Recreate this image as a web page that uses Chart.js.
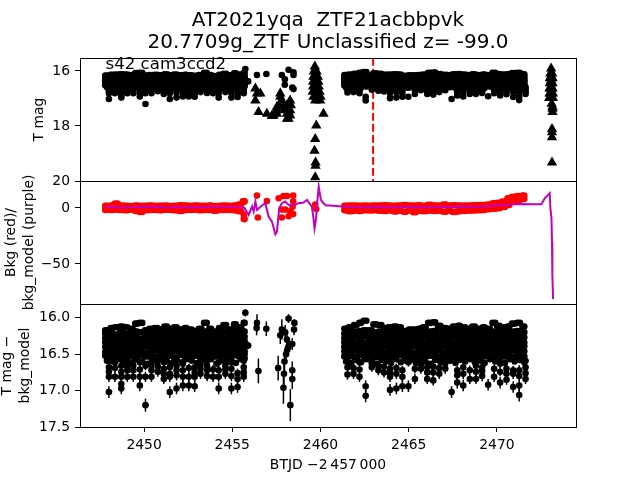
<!DOCTYPE html>
<html>
<head>
<meta charset="utf-8">
<script src="https://cdn.jsdelivr.net/npm/chart.js@4"></script>
<style>
  html, body { margin: 0; padding: 0; background: #fff; }
  canvas { position: absolute; left: 0; top: 0; }
</style>
</head>
<body>
<canvas id="magChart" width="640" height="480"></canvas>
<canvas id="bkgChart" width="640" height="480"></canvas>
<canvas id="diffChart" width="640" height="480"></canvas>
<script>
// Tick labels
const xTicks = [2450, 2455, 2460, 2465, 2470];
const magTicks = [16, 18, 20];
const bkgTicks = [-50, 0];
const diffTicks = [16, 16.5, 17, 17.5];

const flareTime = [2462.98, 2462.98];
const flareMag = [15.53, 20];

// Dense cloud, read column by column (two time grids, half a step apart)
const blobTimes = [2447.8,2448.1,2448.35,2448.65,2448.9,2449.2,2449.5,2449.75,2450.05,2450.3,2450.6,2450.9,2451.15,2451.45,2451.7,2452.0,2452.3,2452.55,2452.85,2453.1,2453.4,2453.7,2453.95,2454.25,2454.5,2454.8,2455.1,2455.35,2455.65,
  2461.35,2461.6,2461.9,2462.2,2462.45,2462.75,2463.0,2463.3,2463.6,2463.85,2464.15,2464.4,2464.7,2465.0,2465.25,2465.55,2465.8,2466.1,2466.4,2466.65,2466.95,2467.2,2467.5,2467.8,2468.05,2468.35,2468.6,2468.9,2469.2,2469.45,2469.75,2470.0,2470.3,2470.6,2470.85,2471.15,2471.45];
const blobTimesMid = [2447.9,2448.2,2448.5,2448.8,2449.05,2449.35,2449.6,2449.9,2450.2,2450.45,2450.75,2451.0,2451.3,2451.6,2451.85,2452.15,2452.4,2452.7,2453.0,2453.25,2453.55,2453.8,2454.1,2454.4,2454.65,2454.95,2455.2,2455.5,2455.7,
  2461.45,2461.75,2462.05,2462.3,2462.6,2462.9,2463.15,2463.45,2463.7,2464.0,2464.3,2464.55,2464.85,2465.1,2465.4,2465.65,2465.95,2466.25,2466.5,2466.8,2467.1,2467.35,2467.65,2467.9,2468.2,2468.5,2468.75,2469.05,2469.3,2469.6,2469.9,2470.15,2470.45,2470.7,2471.0,2471.3,2471.55];

const magRow1 = [16.17,16.14,16.13,16.12,16.13,16.15,16.08,16.07,16.17,16.15,16.14,16.16,16.12,16.15,16.13,16.16,16.14,16.16,16.18,16.15,16.07,16.15,16.19,16.14,16.10,16.16,16.09,16.13,16.07,
  16.15,16.13,16.10,16.07,16.04,16.17,16.09,16.10,16.14,16.13,16.12,16.13,16.18,16.16,16.16,16.15,16.13,16.07,16.06,16.11,16.14,16.15,16.12,16.11,16.13,16.15,16.12,16.15,16.13,16.15,16.07,16.11,16.13,16.12,16.08,16.07,16.12];
const magRow2 = [16.22,16.21,16.23,16.20,16.22,16.21,16.19,16.20,16.23,16.22,16.21,16.23,16.20,16.22,16.21,16.23,16.21,16.22,16.24,16.21,16.19,16.22,16.24,16.21,16.19,16.23,16.18,16.20,16.19,
  16.22,16.20,16.19,16.18,16.17,16.23,16.20,16.19,16.22,16.21,16.20,16.21,16.23,16.22,16.23,16.21,16.20,16.19,16.18,16.20,16.22,16.22,16.20,16.20,16.21,16.22,16.20,16.22,16.21,16.22,16.19,16.20,16.21,16.20,16.19,16.18,16.20];
const magRow3 = [16.28,16.27,16.29,16.28,16.26,16.28,16.27,16.29,16.28,16.27,16.28,16.29,16.27,16.28,16.26,16.28,16.29,16.27,16.29,16.28,16.26,16.28,16.29,16.27,16.28,16.26,16.27,16.28,16.26,
  16.28,16.27,16.26,16.27,16.25,16.28,16.27,16.26,16.28,16.29,16.27,16.28,16.29,16.27,16.28,16.27,16.26,16.27,16.25,16.28,16.27,16.29,16.26,16.27,16.28,16.27,16.28,16.29,16.27,16.28,16.26,16.27,16.28,16.26,16.27,16.26,16.27];
const magRow4 = [16.34,16.33,16.35,16.34,16.33,16.35,16.34,16.33,16.35,16.34,16.33,16.35,16.34,16.33,16.35,16.34,16.36,16.33,16.35,16.34,16.33,16.35,16.34,16.33,16.35,16.34,16.33,16.34,16.32,
  16.34,16.33,16.35,16.33,16.34,16.35,16.33,16.34,16.35,16.33,16.34,16.36,16.33,16.35,16.34,16.33,16.35,16.34,16.33,16.35,16.34,16.33,16.35,16.34,16.33,16.35,16.34,16.33,16.35,16.34,16.33,16.35,16.34,16.33,16.35,16.33,16.34];
const magRow5 = [16.40,16.39,16.41,16.40,16.41,16.39,16.40,16.41,16.39,16.41,16.40,16.39,16.41,16.40,16.39,16.41,16.40,16.42,16.39,16.40,16.41,16.39,16.41,16.40,16.39,16.41,16.40,16.39,16.40,
  16.40,16.41,16.39,16.40,16.41,16.39,16.40,16.41,16.39,16.40,16.41,16.39,16.42,16.40,16.39,16.41,16.40,16.39,16.41,16.40,16.39,16.41,16.40,16.42,16.39,16.41,16.40,16.39,16.41,16.40,16.39,16.41,16.40,16.39,16.41,16.40,16.39];
const magRow6 = [16.47,16.45,16.47,16.46,16.48,16.45,16.47,16.46,16.48,16.46,16.45,16.47,16.46,16.48,16.45,16.47,16.46,16.47,16.45,16.48,16.46,16.47,16.45,16.47,16.46,16.48,16.45,16.47,16.46,
  16.46,16.47,16.45,16.48,16.46,16.47,16.45,16.46,16.48,16.46,16.47,16.45,16.47,16.46,16.48,16.45,16.47,16.46,16.47,16.45,16.48,16.46,16.47,16.45,16.46,16.48,16.45,16.47,16.46,16.48,16.45,16.47,16.46,16.47,16.45,16.48,16.46];
const magRow7 = [16.52,16.53,16.51,16.54,16.52,16.53,16.55,16.51,16.53,16.52,16.54,16.51,16.53,16.52,16.55,16.51,16.53,16.54,16.52,16.51,16.54,16.52,16.53,16.51,16.54,16.52,16.51,16.53,16.50,
  16.53,16.52,16.54,16.51,16.53,16.52,16.54,16.51,16.52,16.54,16.53,16.51,16.53,16.52,16.54,16.51,16.53,16.52,16.51,16.54,16.53,16.52,16.54,16.51,16.53,16.52,16.54,16.51,16.53,16.52,16.54,16.51,16.53,16.52,16.54,16.51,16.53];
const magRow8 = [16.59,16.60,16.57,16.61,16.58,16.62,16.57,16.60,16.63,16.58,16.61,16.57,16.60,16.62,16.58,16.61,16.57,16.59,16.62,16.58,16.60,16.57,16.63,16.59,16.61,16.58,16.62,16.57,16.56,
  16.60,16.62,16.58,16.61,16.57,16.60,16.63,16.58,16.60,16.62,16.57,16.61,16.59,16.58,16.62,16.57,16.60,16.63,16.58,16.61,16.57,16.59,16.62,16.58,16.60,16.57,16.61,16.59,16.62,16.57,16.60,16.58,16.62,16.57,16.60,16.58,16.61];

// Lower fringe of the cloud, with error bars
const fringeTimes = [2448.01,2448.01,2448.01,2448.01,2448.35,2448.35,2448.71,2448.71,2448.71,2449.05,2449.05,2449.05,2449.39,2449.39,2449.76,2449.76,2449.76,2450.08,2450.08,2450.42,2450.42,2450.78,2451.12,2451.12,2451.12,2451.46,2451.46,2451.46,2451.84,2451.84,2451.84,2452.2,2452.2,2452.2,2452.54,2452.54,2452.87,2452.87,2452.87,2453.2,2453.2,2453.2,2453.57,2453.57,2453.91,2454.23,2454.23,2454.23,2454.61,2454.61,2454.95,2454.95,2454.95,2455.3,2455.3,2455.65,2455.65,2455.65,2455.74,2455.9,
  2461.53,2461.53,2461.87,2462.21,2462.21,2462.56,2462.56,2462.91,2463.28,2463.6,2463.94,2463.94,2463.94,2464.3,2464.3,2464.64,2464.64,2464.98,2464.98,2465.35,2465.69,2466.05,2466.05,2466.39,2466.39,2466.73,2467.07,2467.43,2467.75,2467.75,2468.09,2468.09,2468.46,2468.81,2468.81,2469.16,2469.16,2469.5,2469.84,2470.18,2470.18,2470.54,2470.54,2470.92,2470.92,2471.26,2471.26,2471.26,2471.62,2471.62,2471.62,
  2448.01,2448.35,2448.71,2448.71,2449.05,2449.39,2449.76,2450.08,2450.42,2450.78,2451.12,2451.46,2451.84,2452.2,2452.54,2452.87,2453.2,2453.57,2453.91,2454.23,2454.61,2454.95,2455.3,2455.65,
  2461.53,2461.87,2462.21,2462.91,2463.28,2463.6,2463.94,2464.3,2464.64,2465.35,2465.69,2466.05,2466.39,2466.73,2467.07,2467.75,2468.09,2468.46,2468.81,2469.16,2469.84,2470.18,2470.54,2470.92,2471.26,2471.62];
const fringeMags = [17.02,16.81,16.68,16.57,16.81,16.61,16.81,16.91,16.97,16.81,16.72,16.61,16.72,16.81,16.81,16.93,16.61,17.20,16.81,16.72,16.81,16.74,16.70,16.84,16.61,16.81,16.77,17.02,16.97,16.79,16.66,16.93,16.81,16.63,16.93,16.81,16.94,16.81,16.68,16.70,16.77,16.57,16.72,16.80,16.81,16.97,16.81,16.61,16.77,16.66,16.97,16.80,16.61,16.95,16.84,16.81,16.68,16.59,15.93,16.38,
  16.78,16.59,16.77,16.81,16.61,16.94,17.07,16.63,16.72,16.75,16.99,16.81,16.70,16.97,16.77,16.94,16.81,16.94,16.61,16.84,16.70,16.84,16.75,16.86,16.75,16.77,16.70,17.02,16.89,16.79,16.93,16.77,16.84,16.84,16.66,16.80,16.68,16.92,16.81,16.89,16.63,16.85,16.70,16.95,16.77,17.06,16.93,16.72,16.84,16.68,16.59,
  16.74,16.69,16.66,16.74,16.67,16.66,16.71,16.66,16.66,16.67,16.77,16.68,16.72,16.72,16.69,16.75,16.64,16.66,16.71,16.72,16.71,16.70,16.76,16.75,
  16.68,16.69,16.71,16.68,16.66,16.67,16.76,16.69,16.72,16.70,16.64,16.68,16.67,16.69,16.63,16.72,16.68,16.72,16.74,16.73,16.70,16.74,16.77,16.72,16.80,16.76];
const fringeErrs = [.08,.07,.07,.06,.07,.06,.07,.08,.08,.07,.07,.06,.07,.07,.07,.08,.06,.09,.07,.07,.07,.07,.07,.07,.06,.07,.07,.08,.08,.07,.06,.08,.07,.06,.08,.07,.08,.07,.06,.07,.07,.06,.07,.07,.07,.08,.07,.06,.07,.06,.08,.07,.06,.08,.07,.07,.06,.06,.05,.05,
  .07,.06,.07,.07,.06,.08,.09,.06,.07,.07,.08,.07,.07,.08,.07,.08,.07,.08,.06,.07,.07,.07,.07,.07,.07,.07,.07,.08,.08,.07,.08,.07,.07,.07,.06,.07,.07,.08,.07,.08,.06,.07,.07,.08,.07,.09,.08,.07,.07,.06,.06,
  .06,.06,.06,.06,.06,.06,.06,.06,.06,.06,.06,.06,.06,.06,.06,.06,.06,.06,.06,.06,.06,.06,.06,.06,
  .06,.06,.06,.06,.06,.06,.06,.06,.06,.06,.06,.06,.06,.06,.06,.06,.06,.06,.06,.06,.06,.06,.06,.06,.06,.06];

// Sparse stretch before the gap, diff panel
const gapTimes = [2456.4,2456.38,2456.48,2456.93,2457.6,2457.81,2457.72,2457.9,2457.93,2457.96,2458.0,2458.19,2458.12,2458.1,2458.17,2458.05,2458.29,2458.4,2458.4,2458.4,2458.5,2458.52];
const gapMags = [16.07,16.14,16.73,16.15,16.69,16.16,16.24,16.96,16.77,16.60,16.20,16.01,16.44,16.30,16.40,16.50,17.20,16.84,16.72,16.36,16.16,16.07];
const gapErrs = [.12,.1,.17,.1,.17,.14,.12,.22,.2,.15,.1,.06,.1,.08,.08,.1,.22,.14,.12,.08,.08,.05];

// Same stretch in the magnitude panel: dots on top, triangles below
const topGapTimes = [2456.4,2456.93,2457.81,2458.19,2458.47,2458.47,2457.98,2457.98,2458.4,2458.47];
const topGapMags = [16.15,16.11,16.15,15.96,16.05,16.15,16.5,16.3,16.6,16.66];

const triangleTimes = [2456.31,2456.4,2456.31,2456.59,2456.49,2456.96,2457.25,2457.53,2457.72,2457.72,2458.19,2458.28,2458.28,2457.91,2457.53,2458.1,
  2457.34,2457.53,2457.63,2457.81,2457.72,2457.94,2458.1,2458.19,2458.32,2458.28,2458.1,2457.25,
  2459.68,2459.62,2459.78,2459.6,2459.7,2459.85,2459.58,2459.7,2459.88,2459.58,2459.72,2459.9,2459.56,2459.72,2459.95,2459.6,2459.79,2460.0,2459.7,2459.98,
  2459.72,2459.75,2459.75,2459.75,2459.75,
  2460.17,2459.76,2459.7,2459.66,2459.72,2459.72,2459.7,
  2473.07,2473.03,2473.13,2473.0,2473.09,2473.15,2473.0,2473.09,2473.15,2472.98,2473.09,2473.15,2472.98,2473.09,2473.17,2472.96,2473.07,2473.17,
  2473.07,2473.07,2473.07,2473.07,2473.07,
  2473.1,2473.15,2473.15,2473.15,2473.12,2473.12,2473.12,2473.12];
const triangleMags = [17.07,16.82,16.64,16.82,17.49,17.56,17.64,17.56,17.25,16.94,17.74,17.43,17.07,17.31,17.31,17.56,
  17.62,17.43,17.25,17.07,16.82,17.43,17.25,17.49,17.25,17.62,17.74,17.64,
  15.84,16.02,16.02,16.21,16.21,16.21,16.39,16.39,16.39,16.57,16.57,16.57,16.76,16.76,16.76,16.94,16.94,16.94,17.07,17.07,
  16.12,16.30,16.48,16.66,16.85,
  17.56,17.98,18.47,18.90,19.33,19.45,19.86,
  15.91,16.09,16.09,16.27,16.27,16.27,16.45,16.45,16.45,16.64,16.64,16.64,16.82,16.82,16.82,16.98,16.98,16.98,
  16.18,16.36,16.55,16.73,16.90,
  17.19,17.37,17.30,17.49,18.11,18.23,18.41,19.33];

// Background (red), upper and lower edge of the band
const bkgHigh = [1.8,2.0,3.8,2.0,1.8,1.6,2.0,1.8,1.9,2.2,1.8,1.9,2.0,1.7,1.9,2.4,2.1,1.8,2.0,1.9,1.8,2.0,1.7,1.8,2.0,1.8,2.2,3.0,5.8,
  1.8,2.0,2.2,1.9,2.2,1.8,2.0,2.1,2.4,2.2,1.9,2.0,2.6,2.2,2.0,2.3,1.8,2.8,2.0,2.2,3.0,2.1,2.4,2.0,2.1,2.2,2.3,2.5,2.6,3.0,4.0,4.6,5.6,8.6,10.0,10.6,11.0,11.3];
const bkgLow = [-1.8,-1.9,-1.6,-1.8,-2.0,-1.7,-2.8,-3.6,-2.0,-1.8,-1.9,-2.0,-1.7,-1.8,-2.0,-2.8,-1.9,-1.8,-1.7,-2.0,-1.9,-1.8,-2.6,-1.9,-1.8,-1.9,-2.0,-3.0,-10.0,
  -2.0,-3.0,-2.4,-2.8,-2.0,-2.2,-2.0,-2.6,-2.8,-2.2,-3.2,-2.6,-3.4,-2.0,-3.8,-2.6,-3.0,-2.4,-2.8,-2.6,-3.4,-2.8,-3.6,-3.0,-2.8,-2.4,-2.2,-2.0,-1.8,-1.2,-0.8,-0.2,0.8,2.6,5.4,7.0,8.0,8.0];
const bkgGapTimes = [2455.65,2455.6,2456.4,2456.45,2456.96,2457.63,2457.81,2457.9,2458.1,2458.45,2458.45,2458.42,2458.45,2458.19,2458.0,2458.28,2457.81,2459.7,2459.76];
const bkgGapVals = [-6,6,11,-8.6,6.2,8.6,-8.6,10.6,10.6,11,6,1,-5.5,-7.5,-1.5,-3,-1.5,3,-1];

// Background model (purple)
const modelTimes = [2447.8,2448.3,2448.8,2449.3,2449.8,2450.3,2450.8,2451.3,2451.8,2452.3,2452.8,2453.3,2453.8,2454.3,2454.8,2455.3,2455.7,2455.93,2456.12,2456.21,2456.31,2456.4,2456.68,2456.87,2457.06,2457.25,2457.44,2457.53,2457.66,2457.81,2458.0,2458.19,2458.47,2458.75,2459.04,2459.23,2459.51,2459.6,2459.66,2459.75,2459.82,2459.9,2460.02,2460.17,2460.32,2460.55,
  2461.21,2462.0,2463.0,2464.0,2465.0,2466.0,2467.0,2468.0,2469.0,2470.16,2471.3,2472.05,2472.52,2472.71,2472.9,2472.99,2473.03,2473.09,2473.12,2473.14,2473.18];
const modelVals = [0.8,0.5,0.3,0.6,1.0,0.9,1.1,0.4,0.9,0.3,0.8,0.6,1.0,1.0,1.0,0.7,0.0,-6.3,1.2,-3.3,5.7,-1.8,2.1,4.2,-7.7,-12.2,-23.5,-21.1,-0.3,4.2,5.7,2.7,2.1,4.2,4.8,7.2,1.2,-9.2,-18.1,-9.2,5.7,19,7.2,4.2,2.1,2.1,
  1.2,0.6,0.8,0.5,0.9,0.6,0.8,1.2,1.0,2.5,3.4,3.3,3.3,8.6,11.6,13.1,-0.3,-9.2,-30,-60,-81.2];

// The solid part of the cloud sits on both time grids, the last row on one only
const solidRows = [magRow1, magRow2, magRow3, magRow4, magRow5, magRow6, magRow7];

Chart.defaults.font.family = "'DejaVu Sans', sans-serif";
Chart.defaults.color = '#000';

function pairs(xs, ys) {
  return xs.map((x, i) => ({ x: x, y: ys[i] }));
}

function blobPoints() {
  let points = [];
  solidRows.forEach(row => {
    points = points.concat(pairs(blobTimes, row), pairs(blobTimesMid, row));
  });
  return points.concat(pairs(blobTimesMid, magRow8), pairs(fringeTimes, fringeMags));
}

function bkgPoints() {
  return pairs(blobTimes, bkgHigh).concat(
    pairs(blobTimesMid, bkgHigh),
    pairs(blobTimes, bkgLow),
    pairs(blobTimesMid, bkgLow),
    pairs(bkgGapTimes, bkgGapVals)
  );
}

function dots(data, color) {
  return { data: data, backgroundColor: color, pointRadius: 3.3, pointBorderWidth: 0, pointHoverRadius: 3.3 };
}

// Frame round the axes
const framePlugin = {
  id: 'frame',
  afterDraw(chart) {
    const { ctx, chartArea: a } = chart;
    ctx.save();
    ctx.strokeStyle = '#000';
    ctx.lineWidth = 1;
    ctx.strokeRect(a.left + 0.5, a.top + 0.5, a.right - a.left, a.bottom - a.top);
    ctx.restore();
  }
};

// Error bars, through the chart's own scales
const errorBarPlugin = {
  id: 'errorBars',
  beforeDatasetsDraw(chart) {
    const { ctx, scales } = chart;
    const draw = (ts, ms, es) => {
      ts.forEach((t, i) => {
        const x = scales.x.getPixelForValue(t);
        ctx.beginPath();
        ctx.moveTo(x, scales.y.getPixelForValue(ms[i] - es[i]));
        ctx.lineTo(x, scales.y.getPixelForValue(ms[i] + es[i]));
        ctx.stroke();
      });
    };
    ctx.save();
    ctx.strokeStyle = '#000';
    ctx.lineWidth = 1.5;
    draw(fringeTimes, fringeMags, fringeErrs);
    draw(gapTimes, gapMags, gapErrs);
    ctx.restore();
  }
};

// Sector label inside the top panel
const sectorLabelPlugin = {
  id: 'sectorLabel',
  afterDatasetsDraw(chart) {
    const { ctx, scales } = chart;
    ctx.save();
    ctx.font = "16.6px 'DejaVu Sans', sans-serif";
    ctx.fillStyle = '#000';
    ctx.textBaseline = 'alphabetic';
    ctx.fillText('s42 cam3ccd2', scales.x.getPixelForValue(2447.82), scales.y.getPixelForValue(15.93));
    ctx.restore();
  }
};

function baseOptions(cfg) {
  return {
    responsive: false,
    animation: false,
    events: [],
    layout: { padding: cfg.padding },
    plugins: { legend: { display: false }, tooltip: { enabled: false }, title: cfg.title || { display: false } },
    scales: {
      x: {
        type: 'linear',
        min: 2446.37,
        max: 2474.48,
        afterBuildTicks: (s) => { s.ticks = xTicks.map(v => ({ value: v })); },
        afterFit: (s) => { s.height = cfg.xHeight; },
        grid: { display: cfg.showX, drawOnChartArea: false, tickLength: 5, tickColor: '#000' },
        border: { display: false },
        ticks: { display: cfg.showX, font: { size: 13.9 }, padding: 5, maxRotation: 0, callback: v => String(v) },
        title: cfg.xTitle || { display: false }
      },
      y: {
        type: 'linear',
        reverse: cfg.reverse,
        min: cfg.yMin,
        max: cfg.yMax,
        afterBuildTicks: (s) => { s.ticks = cfg.yTicks.map(v => ({ value: v })); },
        afterFit: (s) => { s.width = 80; },
        grid: { drawOnChartArea: false, tickLength: 5, tickColor: '#000' },
        border: { display: false },
        ticks: { font: { size: 13.9 }, padding: 5, callback: cfg.yFormat },
        title: cfg.yTitle
      }
    }
  };
}

function axisTitle(text, top) {
  return { display: true, text: text, font: { size: 13.9, lineHeight: 1.3 }, padding: { top: top, bottom: 0 } };
}

// Top panel
new Chart(document.getElementById('magChart'), {
  type: 'scatter',
  data: {
    datasets: [
      dots(blobPoints().concat(pairs(topGapTimes, topGapMags)), '#000'),
      { data: pairs(triangleTimes, triangleMags), backgroundColor: '#000', pointStyle: 'triangle', pointRadius: 6, pointBorderWidth: 0, pointHoverRadius: 6 },
      { data: pairs(flareTime, flareMag), showLine: true, borderColor: '#ff0000', borderWidth: 2, borderDash: [7.7, 3.3], pointRadius: 0, order: 5 }
    ]
  },
  options: baseOptions({
    padding: { left: 0, right: 64, top: 0, bottom: 299 },
    xHeight: 0,
    showX: false,
    reverse: true,
    yMin: 15.53,
    yMax: 20,
    yTicks: magTicks,
    yFormat: v => String(v),
    yTitle: axisTitle('T mag', 30),
    title: {
      display: true,
      text: ['AT2021yqa  ZTF21acbbpvk', '20.7709g_ZTF Unclassified z= -99.0'],
      fullSize: false,
      font: { size: 20, weight: 'normal', lineHeight: 1.1 },
      color: '#000',
      padding: { top: 10, bottom: 4 }
    }
  }),
  plugins: [framePlugin, sectorLabelPlugin]
});

// Middle panel
new Chart(document.getElementById('bkgChart'), {
  type: 'scatter',
  data: {
    datasets: [
      { data: pairs(modelTimes, modelVals), showLine: true, borderColor: '#bf00bf', borderWidth: 2, pointRadius: 0, order: 1 },
      Object.assign(dots(bkgPoints(), '#ff0000'), { order: 2 })
    ]
  },
  options: baseOptions({
    padding: { left: 0, right: 64, top: 181, bottom: 176 },
    xHeight: 0,
    showX: false,
    reverse: false,
    yMin: -85.7,
    yMax: 24,
    yTicks: bkgTicks,
    yFormat: v => (v < 0 ? '\u2212' + Math.abs(v) : String(v)),
    yTitle: axisTitle(['Bkg (red)/', 'bkg_model (purple)'], 2)
  }),
  plugins: [framePlugin]
});

// Bottom panel
new Chart(document.getElementById('diffChart'), {
  type: 'scatter',
  data: {
    datasets: [dots(blobPoints().concat(pairs(gapTimes, gapMags)), '#000')]
  },
  options: baseOptions({
    padding: { left: 0, right: 64, top: 304, bottom: 0 },
    xHeight: 53,
    showX: true,
    reverse: true,
    yMin: 15.81,
    yMax: 17.5,
    yTicks: diffTicks,
    yFormat: v => v.toFixed(1),
    yTitle: axisTitle(['T mag \u2212', 'bkg_model'], -1.5),
    xTitle: { display: true, text: 'BTJD \u22122\u2009457\u2009000', font: { size: 13.9 }, padding: { top: 0, bottom: 6 } }
  }),
  plugins: [framePlugin, errorBarPlugin]
});
</script>
</body>
</html>
